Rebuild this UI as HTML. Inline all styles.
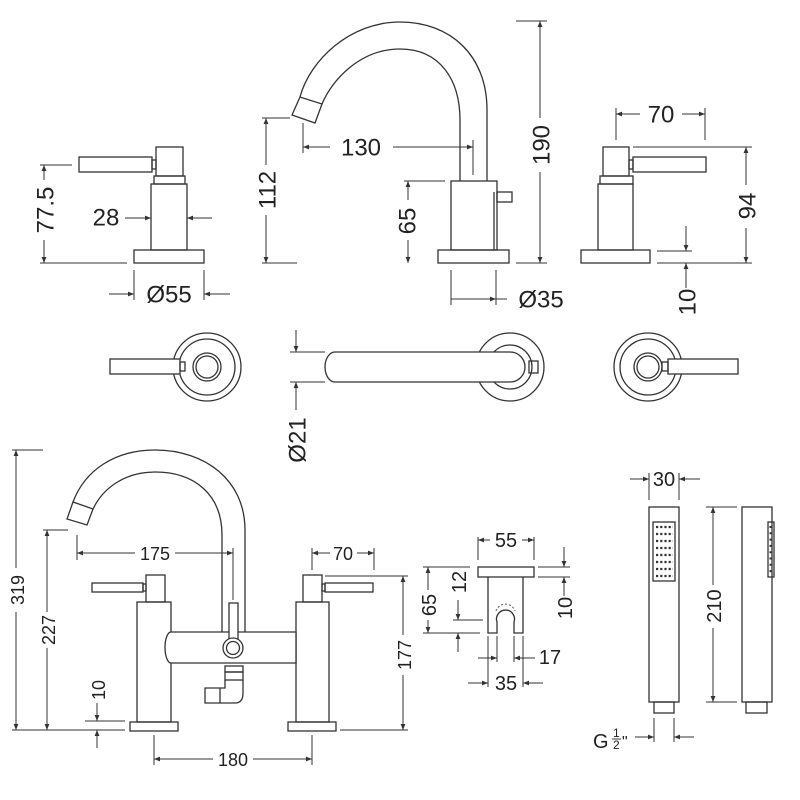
<!DOCTYPE html>
<html><head><meta charset="utf-8"><style>
html,body{margin:0;padding:0;background:#fff;}
svg{display:block;}
text{font-family:"Liberation Sans",sans-serif;fill:#222;}
.s{fill:none;stroke:#333;stroke-width:1.3;}
.d{fill:none;stroke:#333;stroke-width:1;}
.w{fill:#fff;stroke:#333;stroke-width:1.3;}
</style></head><body>
<svg width="800" height="800" viewBox="0 0 800 800" xmlns="http://www.w3.org/2000/svg">
<defs>
<marker id="a" viewBox="0 0 10 10" refX="10" refY="5" markerWidth="9" markerHeight="6" markerUnits="userSpaceOnUse" orient="auto"><path d="M0,1 L10,5 L0,9z" fill="#333"/></marker>
</defs>

<!-- ===== TOP LEFT TAP ===== -->
<rect class="s" x="79" y="157" width="73" height="15"/>
<rect class="s" x="152" y="160" width="4" height="9"/>
<rect class="s" x="156" y="147" width="27" height="29"/>
<rect class="s" x="154" y="176" width="31" height="8"/>
<rect class="s" x="151" y="184" width="36" height="66"/>
<rect class="s" x="134" y="250" width="70" height="13"/>
<line class="d" x1="40" y1="165" x2="72" y2="165"/>
<line class="d" x1="40" y1="263" x2="127" y2="263"/>
<line class="d" x1="44" y1="180" x2="44" y2="165" marker-end="url(#a)"/>
<line class="d" x1="44" y1="240" x2="44" y2="263" marker-end="url(#a)"/>
<text font-size="24" text-anchor="middle" dominant-baseline="central" transform="translate(46,210) rotate(-90)">77.5</text>
<text font-size="24" text-anchor="middle" dominant-baseline="central" x="106" y="218">28</text>
<line class="d" x1="125" y1="218" x2="151" y2="218" marker-end="url(#a)"/>
<line class="d" x1="212" y1="218" x2="187" y2="218" marker-end="url(#a)"/>
<line class="d" x1="134" y1="270" x2="134" y2="300"/>
<line class="d" x1="204" y1="270" x2="204" y2="300"/>
<line class="d" x1="109" y1="294" x2="134" y2="294" marker-end="url(#a)"/>
<line class="d" x1="230" y1="294" x2="204" y2="294" marker-end="url(#a)"/>
<text font-size="24" text-anchor="middle" dominant-baseline="central" x="169" y="295">Ø55</text>

<!-- ===== TOP SPOUT ===== -->
<path class="s" d="M300,97 C310,60 350,22 400,22 C450,22 487,55 487,110 L487,181"/>
<path class="s" d="M322,104 C332,80 360,49 400,49 C440,49 460,80 460,120 L460,181"/>
<path class="w" d="M292,115 L300,97 L322,104 L315,123 Z"/>
<rect class="s" x="451" y="181" width="46" height="69"/>
<line class="s" x1="494" y1="192" x2="494" y2="250"/>
<rect class="s" x="497" y="192" width="15" height="10"/>
<rect class="s" x="438" y="250" width="71" height="13"/>
<line class="d" x1="262" y1="118" x2="290" y2="118"/>
<line class="d" x1="262" y1="263" x2="297" y2="263"/>
<line class="d" x1="266" y1="165" x2="266" y2="118" marker-end="url(#a)"/>
<line class="d" x1="266" y1="215" x2="266" y2="263" marker-end="url(#a)"/>
<text font-size="24" text-anchor="middle" dominant-baseline="central" transform="translate(268,190) rotate(-90)">112</text>
<line class="d" x1="303" y1="123" x2="303" y2="153"/>
<line class="d" x1="473" y1="140" x2="473" y2="175"/>
<line class="d" x1="330" y1="147" x2="303" y2="147" marker-end="url(#a)"/>
<line class="d" x1="393" y1="147" x2="473" y2="147" marker-end="url(#a)"/>
<text font-size="24" text-anchor="middle" dominant-baseline="central" x="361" y="148">130</text>
<line class="d" x1="404" y1="181" x2="445" y2="181"/>
<line class="d" x1="408" y1="200" x2="408" y2="181" marker-end="url(#a)"/>
<line class="d" x1="408" y1="240" x2="408" y2="263" marker-end="url(#a)"/>
<text font-size="24" text-anchor="middle" dominant-baseline="central" transform="translate(408,221) rotate(-90)">65</text>
<line class="d" x1="516" y1="21" x2="547" y2="21"/>
<line class="d" x1="516" y1="263" x2="547" y2="263"/>
<line class="d" x1="540" y1="118" x2="540" y2="21" marker-end="url(#a)"/>
<line class="d" x1="540" y1="172" x2="540" y2="263" marker-end="url(#a)"/>
<text font-size="24" text-anchor="middle" dominant-baseline="central" transform="translate(542,145) rotate(-90)">190</text>
<line class="d" x1="451" y1="270" x2="451" y2="305"/>
<line class="d" x1="496" y1="270" x2="496" y2="305"/>
<line class="d" x1="451" y1="299" x2="496" y2="299" marker-end="url(#a)"/>
<line class="d" x1="496" y1="299" x2="507" y2="299"/>
<text font-size="24" text-anchor="middle" dominant-baseline="central" x="541" y="300">Ø35</text>

<!-- ===== TOP RIGHT TAP ===== -->
<rect class="s" x="633" y="157" width="73" height="15"/>
<rect class="s" x="629" y="160" width="4" height="9"/>
<rect class="s" x="603" y="147" width="26" height="29"/>
<rect class="s" x="600" y="176" width="33" height="8"/>
<rect class="s" x="598" y="184" width="35" height="66"/>
<rect class="s" x="581" y="250" width="69" height="13"/>
<line class="d" x1="616" y1="108" x2="616" y2="140"/>
<line class="d" x1="705" y1="108" x2="705" y2="140"/>
<line class="d" x1="640" y1="114" x2="616" y2="114" marker-end="url(#a)"/>
<line class="d" x1="682" y1="114" x2="705" y2="114" marker-end="url(#a)"/>
<text font-size="24" text-anchor="middle" dominant-baseline="central" x="661" y="115">70</text>
<line class="d" x1="633" y1="147" x2="752" y2="147"/>
<line class="d" x1="657" y1="263" x2="752" y2="263"/>
<line class="d" x1="746" y1="185" x2="746" y2="147" marker-end="url(#a)"/>
<line class="d" x1="746" y1="228" x2="746" y2="263" marker-end="url(#a)"/>
<text font-size="24" text-anchor="middle" dominant-baseline="central" transform="translate(748,206) rotate(-90)">94</text>
<line class="d" x1="657" y1="251" x2="692" y2="251"/>
<line class="d" x1="686" y1="226" x2="686" y2="251" marker-end="url(#a)"/>
<line class="d" x1="686" y1="288" x2="686" y2="263" marker-end="url(#a)"/>
<text font-size="24" text-anchor="middle" dominant-baseline="central" transform="translate(688,302) rotate(-90)">10</text>

<!-- ===== PLAN VIEWS ===== -->
<circle class="s" cx="207" cy="367" r="34"/>
<circle class="s" cx="207" cy="367" r="28"/>
<circle class="s" cx="207" cy="367" r="14"/>
<circle class="s" cx="207" cy="367" r="11"/>
<rect class="w" x="110" y="359" width="70" height="15"/>
<rect class="s" x="180" y="362" width="5" height="9"/>

<circle class="s" cx="510" cy="367" r="34"/>
<circle class="s" cx="510" cy="367" r="22"/>
<path class="w" d="M335,352 L510,352 A15,15 0 0 1 510,382 L335,382 A10,15 0 0 1 335,352 Z"/>
<rect class="s" x="529" y="361" width="9" height="12"/>
<line class="d" x1="296" y1="330" x2="296" y2="352" marker-end="url(#a)"/>
<line class="d" x1="296" y1="410" x2="296" y2="382" marker-end="url(#a)"/>
<line class="d" x1="290" y1="352" x2="325" y2="352"/>
<line class="d" x1="290" y1="382" x2="325" y2="382"/>
<text font-size="24" text-anchor="middle" dominant-baseline="central" transform="translate(298,440) rotate(-90)">Ø21</text>

<circle class="s" cx="648" cy="367" r="34"/>
<circle class="s" cx="648" cy="367" r="28"/>
<circle class="s" cx="648" cy="367" r="14"/>
<circle class="s" cx="648" cy="367" r="11"/>
<rect class="w" x="668" y="359" width="70" height="15"/>
<rect class="s" x="662" y="362" width="6" height="9"/>

<!-- ===== BATH FILLER ===== -->
<path class="s" d="M73,502 C85,470 115,450 155,450 C205,450 245,480 245,530 L245,632"/>
<path class="s" d="M93,509 C103,488 125,472 155,472 C195,472 222,495 222,535 L222,632"/>
<path class="w" d="M67,519 L73,502 L93,509 L87,525 Z"/>
<rect class="s" x="92" y="583" width="51" height="9"/>
<rect class="s" x="143" y="584" width="3" height="7"/>
<rect class="s" x="146" y="575" width="19" height="27"/>
<rect class="s" x="137" y="602" width="34" height="120"/>
<rect class="s" x="130" y="722" width="48" height="9"/>
<rect class="s" x="325" y="583" width="48" height="9"/>
<rect class="s" x="322" y="584" width="3" height="7"/>
<rect class="s" x="303" y="575" width="19" height="27"/>
<rect class="s" x="296" y="602" width="33" height="120"/>
<rect class="s" x="288" y="722" width="48" height="9"/>
<path class="w" d="M171,632 L296,632 L296,663 L171,663 A6,15.5 0 0 1 171,632 Z"/>
<rect class="w" x="229" y="603" width="9" height="37"/>
<circle class="w" cx="233" cy="648" r="10"/>
<circle class="s" cx="233" cy="648" r="6.5"/>
<rect class="s" x="225" y="666" width="18" height="6"/>
<rect class="s" x="225" y="672" width="18" height="8"/>
<path class="s" d="M225,680 L225,688 L205,688 L205,703 L235,703 Q243,703 243,693 L243,680"/>
<line class="s" x1="220" y1="688" x2="220" y2="703"/>

<line class="d" x1="12" y1="450" x2="43" y2="450"/>
<line class="d" x1="12" y1="730" x2="125" y2="730"/>
<line class="d" x1="16" y1="568" x2="16" y2="450" marker-end="url(#a)"/>
<line class="d" x1="16" y1="612" x2="16" y2="730" marker-end="url(#a)"/>
<text font-size="18" text-anchor="middle" dominant-baseline="central" transform="translate(18,590) rotate(-90)">319</text>
<line class="d" x1="43" y1="530" x2="68" y2="530"/>
<line class="d" x1="47" y1="612" x2="47" y2="530" marker-end="url(#a)"/>
<line class="d" x1="47" y1="648" x2="47" y2="730" marker-end="url(#a)"/>
<text font-size="18" text-anchor="middle" dominant-baseline="central" transform="translate(49,630) rotate(-90)">227</text>
<line class="d" x1="77" y1="535" x2="77" y2="560"/>
<line class="d" x1="233" y1="548" x2="233" y2="600"/>
<line class="d" x1="135" y1="553" x2="77" y2="553" marker-end="url(#a)"/>
<line class="d" x1="175" y1="553" x2="233" y2="553" marker-end="url(#a)"/>
<text font-size="18" text-anchor="middle" dominant-baseline="central" x="155" y="554">175</text>
<line class="d" x1="312" y1="548" x2="312" y2="570"/>
<line class="d" x1="374" y1="548" x2="374" y2="570"/>
<line class="d" x1="330" y1="553" x2="312" y2="553" marker-end="url(#a)"/>
<line class="d" x1="357" y1="553" x2="374" y2="553" marker-end="url(#a)"/>
<text font-size="18" text-anchor="middle" dominant-baseline="central" x="343" y="554">70</text>
<line class="d" x1="325" y1="576" x2="408" y2="576"/>
<line class="d" x1="340" y1="730" x2="408" y2="730"/>
<line class="d" x1="403" y1="635" x2="403" y2="576" marker-end="url(#a)"/>
<line class="d" x1="403" y1="675" x2="403" y2="730" marker-end="url(#a)"/>
<text font-size="18" text-anchor="middle" dominant-baseline="central" transform="translate(405,655) rotate(-90)">177</text>
<line class="d" x1="85" y1="721" x2="125" y2="721"/>
<line class="d" x1="97" y1="703" x2="97" y2="721" marker-end="url(#a)"/>
<line class="d" x1="97" y1="748" x2="97" y2="730" marker-end="url(#a)"/>
<text font-size="18" text-anchor="middle" dominant-baseline="central" transform="translate(99,690) rotate(-90)">10</text>
<line class="d" x1="154" y1="735" x2="154" y2="765"/>
<line class="d" x1="312" y1="735" x2="312" y2="765"/>
<line class="d" x1="213" y1="759" x2="154" y2="759" marker-end="url(#a)"/>
<line class="d" x1="253" y1="759" x2="312" y2="759" marker-end="url(#a)"/>
<text font-size="18" text-anchor="middle" dominant-baseline="central" x="233" y="760">180</text>

<!-- ===== HOLDER ===== -->
<rect class="s" x="478" y="567" width="56" height="10"/>
<path class="s" d="M488,577 L488,633 L497,633 L497,622 A9,9 0 1 1 514,622 L514,633 L523,633 L523,577"/>
<path d="M496,611 A10,10 0 0 1 515,611" fill="none" stroke="#555" stroke-width="1" stroke-dasharray="2 2"/>
<line class="d" x1="478" y1="537" x2="478" y2="560"/>
<line class="d" x1="534" y1="537" x2="534" y2="560"/>
<line class="d" x1="490" y1="540" x2="478" y2="540" marker-end="url(#a)"/>
<line class="d" x1="522" y1="540" x2="534" y2="540" marker-end="url(#a)"/>
<text font-size="20" text-anchor="middle" dominant-baseline="central" x="506" y="541">55</text>
<line class="d" x1="423" y1="567" x2="470" y2="567"/>
<line class="d" x1="423" y1="633" x2="480" y2="633"/>
<line class="d" x1="428" y1="590" x2="428" y2="567" marker-end="url(#a)"/>
<line class="d" x1="428" y1="620" x2="428" y2="633" marker-end="url(#a)"/>
<text font-size="20" text-anchor="middle" dominant-baseline="central" transform="translate(430,605) rotate(-90)">65</text>
<line class="d" x1="453" y1="620" x2="483" y2="620"/>
<line class="d" x1="458" y1="600" x2="458" y2="620" marker-end="url(#a)"/>
<line class="d" x1="458" y1="652" x2="458" y2="633" marker-end="url(#a)"/>
<text font-size="20" text-anchor="middle" dominant-baseline="central" transform="translate(460,582) rotate(-90)">12</text>
<line class="d" x1="538" y1="567" x2="570" y2="567"/>
<line class="d" x1="538" y1="577" x2="570" y2="577"/>
<line class="d" x1="564" y1="547" x2="564" y2="567" marker-end="url(#a)"/>
<line class="d" x1="564" y1="596" x2="564" y2="577" marker-end="url(#a)"/>
<text font-size="20" text-anchor="middle" dominant-baseline="central" transform="translate(566,608) rotate(-90)">10</text>
<line class="d" x1="497" y1="636" x2="497" y2="662"/>
<line class="d" x1="514" y1="636" x2="514" y2="662"/>
<line class="d" x1="478" y1="658" x2="497" y2="658" marker-end="url(#a)"/>
<line class="d" x1="535" y1="658" x2="514" y2="658" marker-end="url(#a)"/>
<text font-size="20" text-anchor="middle" dominant-baseline="central" x="550" y="658">17</text>
<line class="d" x1="488" y1="636" x2="488" y2="687"/>
<line class="d" x1="523" y1="636" x2="523" y2="687"/>
<line class="d" x1="468" y1="683" x2="488" y2="683" marker-end="url(#a)"/>
<line class="d" x1="543" y1="683" x2="523" y2="683" marker-end="url(#a)"/>
<text font-size="20" text-anchor="middle" dominant-baseline="central" x="506" y="684">35</text>

<!-- ===== HAND SHOWER ===== -->
<rect class="s" x="649" y="507" width="30" height="195"/>
<rect class="s" x="653" y="522" width="22" height="59"/>
<g stroke="#333" stroke-width="2.2" stroke-dasharray="2.2 2" fill="none">
<line x1="656" y1="527" x2="673" y2="527"/><line x1="656" y1="534" x2="673" y2="534"/>
<line x1="656" y1="541" x2="673" y2="541"/><line x1="656" y1="548" x2="673" y2="548"/>
<line x1="656" y1="555" x2="673" y2="555"/><line x1="656" y1="562" x2="673" y2="562"/>
<line x1="656" y1="569" x2="673" y2="569"/><line x1="656" y1="576" x2="673" y2="576"/>
</g>
<rect class="s" x="654" y="702" width="20" height="11"/>
<rect class="s" x="742" y="507" width="30" height="195"/>
<rect class="s" x="768" y="522" width="6" height="55"/>
<line x1="771" y1="526" x2="771" y2="574" stroke="#333" stroke-width="3" stroke-dasharray="2 4.3"/>
<rect class="s" x="746" y="702" width="21" height="11"/>
<line class="d" x1="649" y1="473" x2="649" y2="500"/>
<line class="d" x1="679" y1="473" x2="679" y2="500"/>
<line class="d" x1="630" y1="479" x2="649" y2="479" marker-end="url(#a)"/>
<line class="d" x1="700" y1="479" x2="679" y2="479" marker-end="url(#a)"/>
<text font-size="20" text-anchor="middle" dominant-baseline="central" x="664" y="480">30</text>
<line class="d" x1="706" y1="507" x2="737" y2="507"/>
<line class="d" x1="706" y1="702" x2="737" y2="702"/>
<line class="d" x1="713" y1="585" x2="713" y2="507" marker-end="url(#a)"/>
<line class="d" x1="713" y1="628" x2="713" y2="702" marker-end="url(#a)"/>
<text font-size="20" text-anchor="middle" dominant-baseline="central" transform="translate(715,606) rotate(-90)">210</text>
<line class="d" x1="654" y1="718" x2="654" y2="742"/>
<line class="d" x1="674" y1="718" x2="674" y2="742"/>
<line class="d" x1="635" y1="737" x2="654" y2="737" marker-end="url(#a)"/>
<line class="d" x1="694" y1="737" x2="674" y2="737" marker-end="url(#a)"/>
<text font-size="20" x="593" y="748">G</text>
<text font-size="12" x="613" y="737">1</text>
<line x1="612" y1="739" x2="621" y2="739" stroke="#222" stroke-width="0.9"/>
<text font-size="12" x="613" y="749">2</text>
<text font-size="16" x="622" y="747">"</text>
</svg>
</body></html>
